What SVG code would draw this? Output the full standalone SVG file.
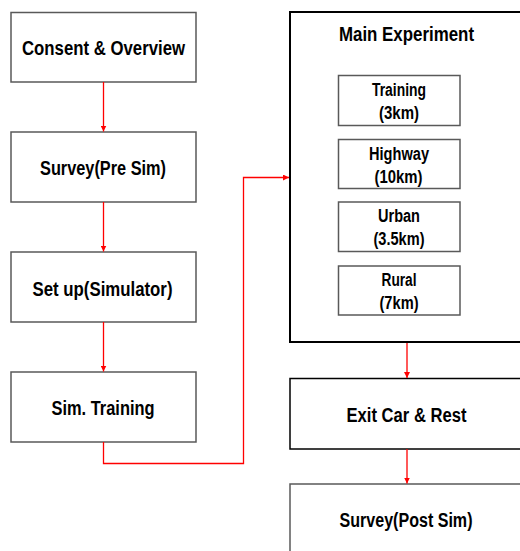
<svg xmlns="http://www.w3.org/2000/svg" width="520" height="551" viewBox="0 0 520 551">
<defs>
<marker id="ah" markerWidth="6" markerHeight="6" refX="6" refY="3" orient="auto" markerUnits="userSpaceOnUse">
<path d="M0,0 L6,3 L0,6 Z" fill="#ff0000"/>
</marker>
<style>
.box{fill:#fff;stroke:#595959;stroke-width:1.5}
.bbox{fill:#fff;stroke:#000;stroke-width:1.5}
.main{fill:#fff;stroke:#000;stroke-width:2}
.t{font-family:"Liberation Sans",Arial,sans-serif;font-weight:bold;font-size:20px;fill:#000;text-anchor:middle}
.s{font-family:"Liberation Sans",Arial,sans-serif;font-weight:bold;font-size:18px;fill:#000;text-anchor:middle}
.c{fill:none;stroke:#ff0000;stroke-width:1.3}
</style>
</defs>
<rect width="520" height="551" fill="#fff"/>
<g id="consent"><rect class="box" x="11" y="12.5" width="185" height="69.5"/><text class="t" x="103.5" y="55" textLength="163" lengthAdjust="spacingAndGlyphs">Consent &amp; Overview</text></g>
<g id="survey-pre"><rect class="box" x="11" y="132" width="185" height="70"/><text class="t" x="103" y="175" textLength="126" lengthAdjust="spacingAndGlyphs">Survey(Pre Sim)</text></g>
<g id="setup"><rect class="box" x="11" y="252" width="185" height="70"/><text class="t" x="102.5" y="296" textLength="140" lengthAdjust="spacingAndGlyphs">Set up(Simulator)</text></g>
<g id="sim-training"><rect class="box" x="11" y="372" width="185" height="70"/><text class="t" x="103" y="415" textLength="103" lengthAdjust="spacingAndGlyphs">Sim. Training</text></g>
<g id="main-experiment"><rect class="main" x="290" y="12" width="240" height="330"/><text class="t" x="406.5" y="41" textLength="135" lengthAdjust="spacingAndGlyphs">Main Experiment</text>
<g id="training"><rect class="box" x="338.5" y="75.5" width="121.5" height="50"/><text class="s" x="399" y="96" textLength="54" lengthAdjust="spacingAndGlyphs">Training</text><text class="s" x="399" y="119" textLength="40" lengthAdjust="spacingAndGlyphs">(3km)</text></g>
<g id="highway"><rect class="box" x="338.5" y="139.5" width="121.5" height="49"/><text class="s" x="399" y="159.5" textLength="60" lengthAdjust="spacingAndGlyphs">Highway</text><text class="s" x="398.5" y="183" textLength="48" lengthAdjust="spacingAndGlyphs">(10km)</text></g>
<g id="urban"><rect class="box" x="338.5" y="202" width="121.5" height="49.5"/><text class="s" x="399" y="221.5" textLength="42" lengthAdjust="spacingAndGlyphs">Urban</text><text class="s" x="399" y="245" textLength="51" lengthAdjust="spacingAndGlyphs">(3.5km)</text></g>
<g id="rural"><rect class="box" x="338.5" y="266" width="121.5" height="49"/><text class="s" x="399" y="285.5" textLength="35" lengthAdjust="spacingAndGlyphs">Rural</text><text class="s" x="399" y="309" textLength="39" lengthAdjust="spacingAndGlyphs">(7km)</text></g>
</g>
<g id="exit-car"><rect class="bbox" x="290" y="378.5" width="240" height="70.5"/><text class="t" x="406.5" y="421.5" textLength="120" lengthAdjust="spacingAndGlyphs">Exit Car &amp; Rest</text></g>
<g id="survey-post"><rect class="box" x="290" y="484" width="240" height="80"/><text class="t" x="406" y="527" textLength="133" lengthAdjust="spacingAndGlyphs">Survey(Post Sim)</text></g>
<g id="connectors">
<path class="c" d="M103.5,82 V131.5" marker-end="url(#ah)"/>
<path class="c" d="M103.5,202 V251.5" marker-end="url(#ah)"/>
<path class="c" d="M103.5,322 V371.5" marker-end="url(#ah)"/>
<path class="c" d="M103.5,442 V463.5 H243.5 V177.5 H289" marker-end="url(#ah)"/>
<path class="c" d="M407,343 V378" marker-end="url(#ah)"/>
<path class="c" d="M407,449 V483.5" marker-end="url(#ah)"/>
</g>
</svg>
